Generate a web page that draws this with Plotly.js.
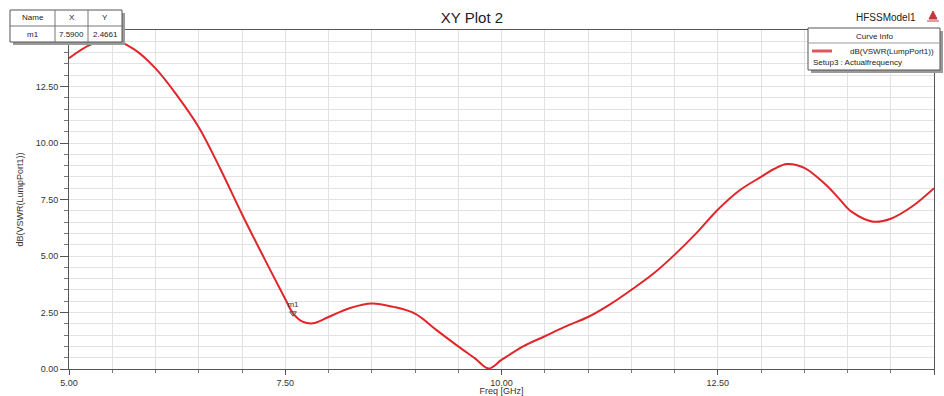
<!DOCTYPE html>
<html>
<head>
<meta charset="utf-8">
<script src="https://cdn.plot.ly/plotly-3.0.1.min.js"></script>
<style>html,body{margin:0;padding:0;background:#fff;}#chart{width:944px;height:396px;}</style>
</head>
<body>
<div id="chart"></div>
<script>
// Data
const freqGHz = [5.0, 5.25, 5.5, 5.75, 6.0, 6.25, 6.5, 6.75, 7.0, 7.25, 7.5, 7.59, 7.7, 7.82, 8.0, 8.25, 8.5, 8.75, 9.0, 9.25, 9.5, 9.7, 9.85, 10.0, 10.25, 10.5, 10.75, 11.0, 11.25, 11.5, 11.75, 12.0, 12.25, 12.5, 12.75, 13.0, 13.15, 13.3, 13.5, 13.75, 13.9, 14.05, 14.3, 14.5, 14.75, 15.0];
const vswrDb  = [13.75, 14.35, 14.58, 14.15, 13.3, 12.1, 10.7, 8.85, 6.85, 4.95, 3.1, 2.4661, 2.1, 2.02, 2.3, 2.7, 2.9, 2.75, 2.45, 1.72, 1.0, 0.45, 0.02, 0.4, 1.0, 1.45, 1.9, 2.3, 2.85, 3.5, 4.2, 5.05, 6.0, 7.05, 7.9, 8.5, 8.85, 9.07, 8.9, 8.15, 7.55, 6.95, 6.52, 6.65, 7.2, 8.0];
const markerName = ["m1"];
const markerX = [7.59];
const markerY = [2.4661];
const xTicks = [5, 7.5, 10, 12.5, 15];
const yTicks = [0, 2.5, 5, 7.5, 10, 12.5];
const plotTitle = "XY Plot 2";
const xTitle = "Freq [GHz]";
const yTitle = "dB(VSWR(LumpPort1))";
const designName = "HFSSModel1";
const curveName = "dB(VSWR(LumpPort1))";
const setupName = "Setup3 : Actualfrequency";

const L = 69, R = 934, T = 30, B = 369;
const px = x => (x - L) / (R - L);
const py = y => (B - y) / (B - T);
const FONT = "Liberation Sans, Arial, sans-serif";

const shapes = [];
const annotations = [];
function rect(x0, y0, x1, y1, fill, line) {
  shapes.push({type: 'rect', xref: 'paper', yref: 'paper', x0: px(x0), x1: px(x1), y0: py(y1), y1: py(y0),
    fillcolor: fill, line: {color: line || 'rgba(0,0,0,0)', width: line ? 1 : 0}, layer: 'above'});
}
function hline(x0, x1, y, color, w) {
  shapes.push({type: 'line', xref: 'paper', yref: 'paper', x0: px(x0), x1: px(x1), y0: py(y), y1: py(y),
    line: {color: color, width: w || 1}, layer: 'above'});
}
function vline(x, y0, y1, color) {
  shapes.push({type: 'line', xref: 'paper', yref: 'paper', x0: px(x), x1: px(x), y0: py(y0), y1: py(y1),
    line: {color: color, width: 1}, layer: 'above'});
}
function text(x, y, s, size, anchor, color) {
  annotations.push({xref: 'paper', yref: 'paper', x: px(x), y: py(y), text: s, showarrow: false,
    xanchor: anchor || 'center', yanchor: 'middle', font: {family: FONT, size: size, color: color || '#222'}});
}

// Marker table (top left)
rect(13, 13, 125, 45, '#9a9a9a');
rect(10, 10, 122, 42, '#ffffff', '#555');
hline(10, 122, 26, '#777');
vline(55, 10, 42, '#777');
vline(88, 10, 42, '#777');
text(32.5, 18, 'Name', 8);
text(71.5, 18, 'X', 8);
text(105, 18, 'Y', 8);
text(32.5, 34, markerName[0], 8);
text(71.5, 34, markerX[0].toFixed(4), 8);
text(105, 34, markerY[0].toFixed(4), 8);

// Curve info box (top right)
rect(811, 31, 943, 73, '#9a9a9a');
rect(808, 28, 940, 70, '#ffffff', '#555');
hline(808, 940, 43, '#999');
text(874, 36, 'Curve Info', 8);
hline(812, 832, 51, '#e0575a', 3);
text(936, 51, curveName, 8, 'right');
text(811, 62, setupName, 8, 'left');
text(918, 17, designName, 10, 'right');
shapes.push({type: 'path', xref: 'paper', yref: 'paper', layer: 'above',
  path: `M ${px(933)} ${py(11)} L ${px(929)} ${py(19)} L ${px(937)} ${py(19)} Z`,
  fillcolor: '#c0393b', line: {color: '#c0393b', width: 1}});
hline(927, 939, 21, '#c0393b', 1);

const traces = [
  {x: freqGHz, y: vswrDb, type: 'scatter', mode: 'lines',
   line: {color: '#e0262b', width: 2, shape: 'spline', smoothing: 1.0}, hoverinfo: 'skip'},
  {x: markerX, y: markerY, type: 'scatter', mode: 'markers+text', text: markerName,
   textposition: 'top center', textfont: {family: FONT, size: 8, color: '#333'},
   marker: {symbol: 'triangle-down-open', size: 6, color: '#555', line: {width: 1}}, hoverinfo: 'skip'}
];

const layout = {
  width: 944, height: 396,
  margin: {l: L, r: 944 - R, t: T, b: 396 - B},
  paper_bgcolor: '#ffffff', plot_bgcolor: '#ffffff',
  showlegend: false,
  title: {text: plotTitle, x: 0.5, xanchor: 'center', y: 1 - 18 / 396, yanchor: 'middle',
    font: {family: FONT, size: 15, color: '#222'}},
  xaxis: {
    range: [5, 15], tickvals: xTicks, ticktext: xTicks.map(v => v.toFixed(2)),
    showline: true, linecolor: '#555', linewidth: 1, mirror: true,
    ticks: 'outside', ticklen: 5, tickcolor: '#555',
    showgrid: true, gridcolor: '#e2e2e2', gridwidth: 1, zeroline: false,
    minor: {dtick: 0.5, tick0: 5, ticks: 'outside', ticklen: 3, tickcolor: '#777', showgrid: true, gridcolor: '#e2e2e2'},
    tickfont: {family: FONT, size: 9, color: '#333'},
    title: {text: xTitle, font: {family: FONT, size: 9, color: '#333'}, standoff: 2}
  },
  yaxis: {
    range: [0, 15], tickvals: yTicks, ticktext: yTicks.map(v => v.toFixed(2)),
    showline: true, linecolor: '#555', linewidth: 1, mirror: true,
    ticks: 'outside', ticklen: 8, tickcolor: '#555',
    showgrid: true, gridcolor: '#e2e2e2', gridwidth: 1, zeroline: false,
    minor: {dtick: 0.5, tick0: 0, ticks: 'outside', ticklen: 4, tickcolor: '#777', showgrid: true, gridcolor: '#e2e2e2'},
    tickfont: {family: FONT, size: 9, color: '#333'},
    title: {text: yTitle, font: {family: FONT, size: 9, color: '#333'}, standoff: 10}
  },
  shapes: shapes,
  annotations: annotations
};

Plotly.newPlot('chart', traces, layout, {displayModeBar: false, staticPlot: true});
</script>
</body>
</html>
